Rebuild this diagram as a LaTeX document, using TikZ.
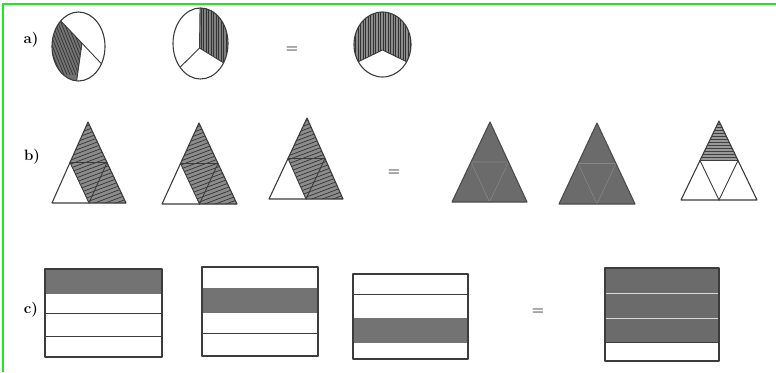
\documentclass[tikz,border=0pt]{standalone}
\usetikzlibrary{calc}
\definecolor{frame}{RGB}{30,235,30}
\definecolor{ink}{RGB}{60,60,60}
\tikzset{
  outl/.style={draw=ink,line width=1.1pt,line join=round},
  divl/.style={draw=ink,line width=0.9pt},
  hatch/.style={draw=black!80,line width=0.7pt},
  lbl/.style={font=\fontsize{15}{15}\selectfont\bfseries,inner sep=0pt},
  eqs/.style={font=\fontsize{14}{14}\selectfont\bfseries,inner sep=0pt,text=black!85}
}
\begin{document}
\begin{tikzpicture}[x=1pt,y=-1pt]
\useasboundingbox (0,0) rectangle (776,372);
\draw[frame,line width=2pt] (3,372) -- (3,4) -- (776,4);

% labels
\node[lbl] (la) at (31,40) {a)};
\node[lbl] (lb) at (32,157) {b)};
\node[lbl] (lc) at (31,310) {c)};
\node[eqs] (e1) at (292,50) {=};
\node[eqs] (e2) at (394,173) {=};
\node[eqs] (e3) at (538,312) {=};

% ---------- a) circles ----------
% circle 1
\coordinate (c1) at (78.5,46.5);
\coordinate (j1) at (82,43.2);
\begin{scope}
  \clip (j1) -- ($(c1)+(-132:26.5 and 34.5)$) arc[start angle=-132,end angle=-266,x radius=26.5,y radius=34.5] -- cycle;
  \fill[black!55] (40,0) rectangle (120,90);
  \foreach \k in {0,3,...,90} \draw[hatch] (\k+10,0) -- ++(30,75);
\end{scope}
\draw[outl] (c1) ellipse[x radius=26.5,y radius=34.5];
\draw[divl] ($(c1)+(-132:26.5 and 34.5)$) -- ($(c1)+(30:26.5 and 34.5)$);
\draw[divl] (j1) -- ($(c1)+(-266:26.5 and 34.5)$);

% circle 2
\coordinate (c2) at (200.5,43.5);
\coordinate (j2) at (199.5,48);
\begin{scope}
  \clip (j2) -- ($(c2)+(-91:27.5 and 35.5)$) arc[start angle=-91,end angle=33,x radius=27.5,y radius=35.5] -- cycle;
  \fill[black!50] (160,0) rectangle (240,90);
  \foreach \k in {196,198.5,...,232} \draw[hatch] (\k,0) -- (\k,90);
\end{scope}
\draw[outl] (c2) ellipse[x radius=27.5,y radius=35.5];
\draw[divl] (j2) -- ($(c2)+(-91:27.5 and 35.5)$);
\draw[divl] (j2) -- ($(c2)+(-222:27.5 and 35.5)$);
\draw[divl] (j2) -- ($(c2)+(33:27.5 and 35.5)$);

% circle 3
\coordinate (c3) at (382.5,44.5);
\coordinate (j3) at (382.5,50);
\begin{scope}
  \clip (j3) -- ($(c3)+(32:28.5 and 32.5)$) arc[start angle=32,end angle=-212,x radius=28.5,y radius=32.5] -- cycle;
  \fill[black!45] (340,0) rectangle (420,90);
  \foreach \k in {353,355.5,...,412} \draw[hatch] (\k,0) -- (\k,90);
\end{scope}
\draw[outl] (c3) ellipse[x radius=28.5,y radius=32.5];
\draw[divl] (j3) -- ($(c3)+(32:28.5 and 32.5)$);
\draw[divl] (j3) -- ($(c3)+(-212:28.5 and 32.5)$);

% ---------- b) triangles ----------
% three-quarter triangles
\foreach \ax/\ay/\bx/\by/\cx in {88/122/52/203/126, 199/123/162/204/237, 307/118/269/199/343}{
  \coordinate (A) at (\ax,\ay);
  \coordinate (B) at (\bx,\by);
  \coordinate (C) at (\cx,\by);
  \coordinate (mab) at ($(A)!0.5!(B)$);
  \coordinate (mac) at ($(A)!0.5!(C)$);
  \coordinate (mbc) at ($(B)!0.5!(C)$);
  \begin{scope}
    \clip (A) -- (mab) -- (mbc) -- (C) -- cycle;
    \fill[black!45] (\bx-5,\ay-5) rectangle (\cx+5,\by+5);
    \foreach \k in {0,4,...,130} \draw[hatch] (\bx-40,\ay+\k) -- ++(120,-45);
  \end{scope}
  \draw[outl] (A) -- (B) -- (C) -- cycle;
  \draw[divl] (mab) -- (mac) -- (mbc) -- cycle;
}
% full triangles
\foreach \ax/\ay/\bx/\by/\cx in {490/122/452/202/527, 597/123/559/204/635}{
  \coordinate (A) at (\ax,\ay);
  \coordinate (B) at (\bx,\by);
  \coordinate (C) at (\cx,\by);
  \coordinate (mab) at ($(A)!0.5!(B)$);
  \coordinate (mac) at ($(A)!0.5!(C)$);
  \coordinate (mbc) at ($(B)!0.5!(C)$);
  \fill[black!58] (A) -- (B) -- (C) -- cycle;
  \draw[black!48,line width=0.6pt] (mab) -- (mac) -- (mbc) -- cycle;
  \draw[outl,draw=black!70] (A) -- (B) -- (C) -- cycle;
}
% quarter triangle
\coordinate (A6) at (719,121);
\coordinate (B6) at (681,200);
\coordinate (C6) at (757,200);
\coordinate (m6ab) at ($(A6)!0.5!(B6)$);
\coordinate (m6ac) at ($(A6)!0.5!(C6)$);
\coordinate (m6bc) at ($(B6)!0.5!(C6)$);
\begin{scope}
  \clip (A6) -- (m6ab) -- (m6ac) -- cycle;
  \fill[black!40] (690,115) rectangle (750,165);
  \foreach \k in {124,127,...,162} \draw[black!75,line width=0.9pt] (690,\k) -- (750,\k);
\end{scope}
\draw[outl] (A6) -- (B6) -- (C6) -- cycle;
\draw[divl] (m6ab) -- (m6ac) -- (m6bc) -- cycle;

% ---------- c) rectangles ----------
% R1
\fill[black!55] (45,269) rectangle (162,294);
\draw[divl] (45,313) -- (162,313);
\draw[divl] (45,336) -- (162,336);
\draw[outl] (45,269) rectangle (162,357);
% R2
\fill[black!55] (202,288) rectangle (318,313);
\draw[divl] (202,333) -- (318,333);
\draw[outl] (202,267) rectangle (318,356);
% R3
\draw[divl] (353,294) -- (468,294);
\fill[black!55] (353,318) rectangle (468,343);
\draw[outl] (353,274) rectangle (468,359);
% R4
\fill[black!58] (605,268) rectangle (719,342);
\draw[white!85!black,line width=0.8pt] (605,293) -- (719,293);
\draw[white!85!black,line width=0.8pt] (605,318) -- (719,318);
\draw[outl] (605,268) rectangle (719,361);
\draw[divl] (605,342) -- (719,342);
\end{tikzpicture}
\end{document}
